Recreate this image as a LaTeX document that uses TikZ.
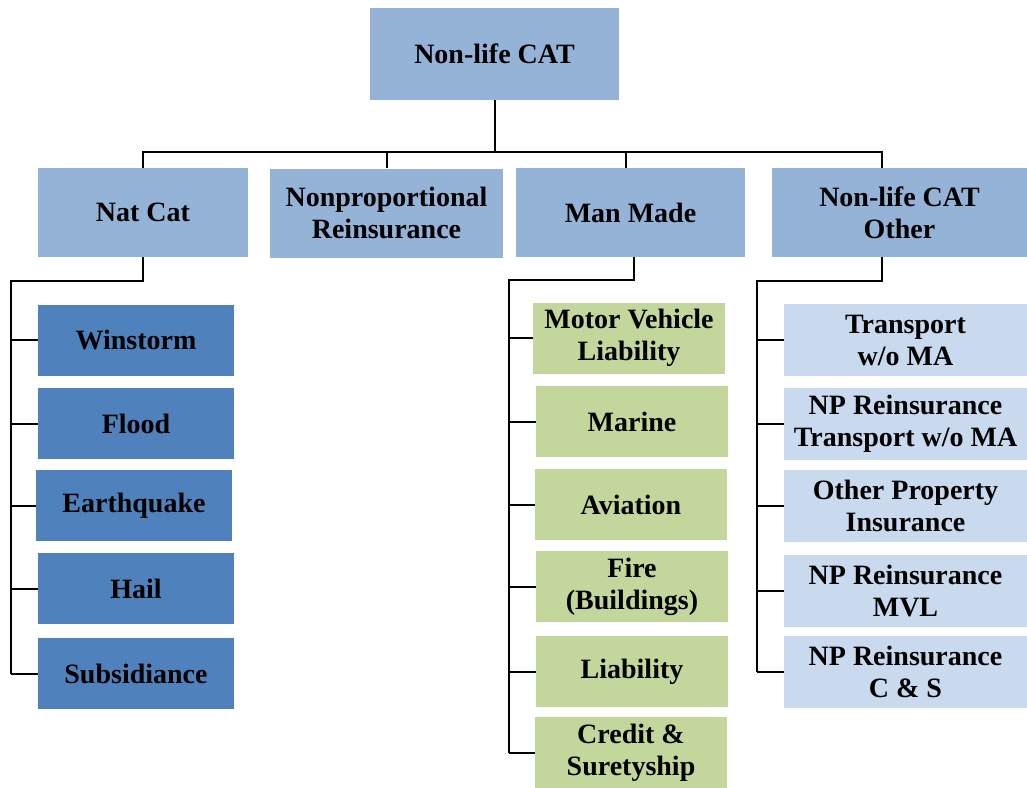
\documentclass[tikz,border=0pt]{standalone}
\usepackage{fontspec}
\setmainfont{Liberation Serif}
\definecolor{topB}{HTML}{95B3D7}
\definecolor{natB}{HTML}{4F81BD}
\definecolor{manG}{HTML}{C3D69B}
\definecolor{othB}{HTML}{C9D9EE}

\begin{document}
\begin{tikzpicture}[x=1pt, y=-1pt,
  box/.style={rectangle, inner sep=0pt, align=center,
     font=\fontsize{28}{32}\selectfont\bfseries},
  topbox/.style={box, fill=topB, minimum height=89pt},
  natbox/.style={box, fill=natB, minimum width=196pt, minimum height=71pt},
  manbox/.style={box, fill=manG, minimum width=192pt, minimum height=71pt},
  othbox/.style={box, fill=othB, minimum width=243pt, minimum height=72pt},
  link/.style={draw=black, line width=2pt}]
  \useasboundingbox (0,0) rectangle (1027,787);
  % root and first level
  \node[topbox, minimum width=249pt, minimum height=92pt] (root) at (494.5,54) {Non-life CAT};
  \node[topbox, minimum width=210pt] (natcat)  at (143,212.5)   {Nat Cat};
  \node[topbox, minimum width=233pt] (nonprop) at (386.5,213)   {Nonproportional\\Reinsurance};
  \node[topbox, minimum width=229pt] (mm)      at (630.5,212.5) {Man Made};
  \node[topbox, minimum width=255pt] (other)   at (899.5,212.5) {Non-life CAT\\Other};
  % children
  \foreach \n/\cx/\cy/\txt in {win/136/340.3/Winstorm, flood/136/423.5/Flood,
     quake/134/505.5/Earthquake, hail/136/588.5/Hail, subs/136/673.5/Subsidiance}
     \node[natbox] (\n) at (\cx,\cy) {\txt};
  \foreach \n/\cx/\cy/\txt in {mvl/629/338/{Motor Vehicle\\Liability}, marine/632/421.5/Marine,
     aviation/631/504.5/Aviation, fire/632/586.5/{Fire\\(Buildings)},
     liab/632/671.5/Liability, credit/631/752.5/{Credit \&\\Suretyship}}
     \node[manbox] (\n) at (\cx,\cy) {\txt};
  \foreach \n/\cy/\txt in {trans/340.3/{Transport\\w/o MA},
     nptrans/423.5/{NP Reinsurance\\Transport w/o MA},
     prop/505.5/{Other Property\\Insurance}, npmvl/590.5/{NP Reinsurance\\MVL},
     npcs/671.5/{NP Reinsurance\\C \& S}}
     \node[othbox] (\n) at (905.5,\cy) {\txt};
  % bus under the root
  \coordinate (bus) at (494,152);
  \coordinate (mmtop) at ([xshift=-4.5pt]mm.north);
  \coordinate (othtop) at ([xshift=-17.5pt]other.north);
  \draw[link] (root.south) -- (root.south |- bus);
  \draw[link] (natcat.north) |- (othtop |- bus) -- (othtop);
  \draw[link] (nonprop.north) -- (nonprop.north |- bus);
  \draw[link] (mmtop) -- (mmtop |- bus);
  % spines to the children
  \coordinate (ncspine) at (11,281);
  \draw[link] (natcat.south) |- (ncspine) -- (ncspine |- subs.west);
  \foreach \n in {win,flood,quake,hail,subs}
     \draw[link] (ncspine |- \n.west) -- (\n.west);
  \coordinate (mmbot) at ([xshift=3.5pt]mm.south);
  \coordinate (mmspine) at (509,280);
  \draw[link] (mmbot) |- (mmspine) -- (mmspine |- credit.west);
  \foreach \n in {mvl,marine,aviation,fire,liab,credit}
     \draw[link] (mmspine |- \n.west) -- (\n.west);
  \coordinate (othbot) at ([xshift=-17.5pt]other.south);
  \coordinate (othspine) at (757,281);
  \draw[link] (othbot) |- (othspine) -- (othspine |- npcs.west);
  \foreach \n in {trans,nptrans,prop,npmvl,npcs}
     \draw[link] (othspine |- \n.west) -- (\n.west);
\end{tikzpicture}
\end{document}
